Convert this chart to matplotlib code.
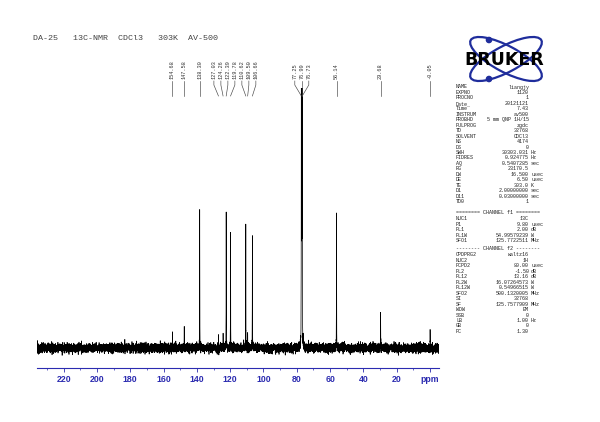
import numpy as np
import matplotlib.pyplot as plt
from matplotlib.patches import Ellipse, Circle
from matplotlib.transforms import blended_transform_factory

title = "DA-25   13C-NMR  CDCl3   303K  AV-500"

# peak list (ppm, relative height)
peak_ppm = [154.68, 147.58, 138.30, 127.03, 124.26, 122.39, 119.78,
            110.62, 109.50, 106.66, 77.25, 76.99, 76.73, 56.14, 29.68, -0.05]
peak_height = [0.062, 0.081, 0.527, 0.038, 0.042, 0.523, 0.446,
               0.481, 0.050, 0.431, 1.5, 1.5, 1.5, 0.523, 0.138, 0.069]

tick_ppm = [220, 200, 180, 160, 140, 120, 100, 80, 60, 40, 20, 0]
tick_text = ["220", "200", "180", "160", "140", "120", "100", "80", "60",
             "40", "20", "ppm"]

params = [
    ("NAME", "liangjy", ""), ("EXPNO", "1120", ""), ("PROCNO", "1", ""),
    ("Date_", "20121121", ""), ("Time", "7.43", ""), ("INSTRUM", "av500", ""),
    ("PROBHD", "5 mm QNP 1H/15", ""), ("PULPROG", "zgdc", ""),
    ("TD", "32768", ""), ("SOLVENT", "CDCl3", ""), ("NS", "4174", ""),
    ("DS", "0", ""), ("SWH", "30303.031", "Hz"), ("FIDRES", "0.924775", "Hz"),
    ("AQ", "0.5407285", "sec"), ("RG", "23170.5", ""), ("DW", "16.500", "usec"),
    ("DE", "6.50", "usec"), ("TE", "303.0", "K"), ("D1", "2.00000000", "sec"),
    ("D11", "0.03000000", "sec"), ("TD0", "1", ""),
]
params_f1 = [
    ("NUC1", "13C", ""), ("P1", "9.80", "usec"), ("PL1", "2.00", "dB"),
    ("PL1W", "54.99579239", "W"), ("SFO1", "125.7722511", "MHz"),
]
params_f2 = [
    ("CPDPRG2", "waltz16", ""), ("NUC2", "1H", ""), ("PCPD2", "80.00", "usec"),
    ("PL2", "-1.50", "dB"), ("PL12", "13.16", "dB"),
    ("PL2W", "16.07264573", "W"), ("PL12W", "0.54966515", "W"),
    ("SFO2", "500.1320005", "MHz"), ("SI", "32768", ""),
    ("SF", "125.7577909", "MHz"), ("WDW", "EM", ""), ("SSB", "0", ""),
    ("LB", "1.00", "Hz"), ("GB", "0", ""), ("PC", "1.30", ""),
]

fig = plt.figure(figsize=(6, 4.22), dpi=100)

# overlay in pixel units for the header, logo and parameter block
over = fig.add_axes([0, 0, 1, 1])
over.set_xlim(0, 600)
over.set_ylim(422, 0)
over.axis("off")

# spectrum axes
ax = fig.add_axes([37 / 600, 1 - 368 / 422, 402 / 600, 280 / 422])
ax.set_xlim(236, -5.4)
ax.set_ylim(-0.077, 1.0)
for side in ["top", "left", "right"]:
    ax.spines[side].set_visible(False)
blue = "#2b2bb0"
ax.spines["bottom"].set_color(blue)
ax.spines["bottom"].set_linewidth(0.8)
ax.set_yticks([])
ax.set_xticks(tick_ppm)
ax.set_xticklabels(tick_text, fontsize=6.3, fontweight="bold",
                   color=blue, family="Liberation Sans")
ax.set_xticks(np.arange(230, -5, -10), minor=True)
ax.tick_params(axis="x", which="major", colors=blue, length=3, width=0.6, pad=2)
ax.tick_params(axis="x", which="minor", colors=blue, length=1.5, width=0.5)
ax.tick_params(axis="x", labelcolor=blue)

# spectrum: narrow lorentzians on a noisy baseline
grid = np.linspace(236, -5.4, 9000)
x = np.sort(np.concatenate([grid, peak_ppm]))[::-1]
y = np.zeros_like(x)
for p, h in zip(peak_ppm, peak_height):
    w = 0.05
    y += h * w ** 2 / ((x - p) ** 2 + w ** 2)
rng = np.random.default_rng(3)
y += rng.normal(0, 0.0085, x.size)
ax.plot(x, y, color="black", lw=0.5)

# peak labels with leader lines
gap = 4.2
order = np.argsort(peak_ppm)[::-1]
pos = [peak_ppm[i] for i in order]
for _ in range(300):
    for i in range(len(pos) - 1):
        d = pos[i] - pos[i + 1]
        if d < gap:
            s = (gap - d) / 2
            pos[i] += s
            pos[i + 1] -= s
mono = "Liberation Mono"
trans = blended_transform_factory(ax.transData, over.transData)
for k, i in enumerate(order):
    p = peak_ppm[i]
    lx = pos[k]
    ax.text(lx, 79, f"{p:.2f}", rotation=90, ha="center", va="bottom",
            fontsize=3.8, family=mono, color="#333333", transform=trans,
            clip_on=False)
    ax.plot([lx, lx, p], [81, 85, 96], color="#444444", lw=0.45,
            transform=trans, clip_on=False)

# header
over.text(33, 39, title, fontsize=6, family=mono, color="#444444",
          va="center", ha="left")

# Bruker logo
logo_blue = "#1f2d9c"
for ang in [28, -28]:
    over.add_patch(Ellipse((506, 59), 80, 26, angle=ang, fill=False,
                           ec=logo_blue, lw=1.6))
over.add_patch(Circle((489, 40), 2.6, color=logo_blue))
over.add_patch(Circle((489, 79), 2.6, color=logo_blue))
over.text(504, 60, "BRUKER", fontsize=12.5, fontweight="bold",
          family="DejaVu Sans", color="black", ha="center", va="center",
          zorder=5)

# acquisition / processing parameters
def param_rows(rows, y0, step=5.46):
    for j, (name, val, unit) in enumerate(rows):
        yy = y0 + j * step
        over.text(456, yy, name, fontsize=3.6, family=mono, color="#222222",
                  va="center", ha="left")
        over.text(529, yy, val, fontsize=3.6, family=mono, color="#222222",
                  va="center", ha="right")
        if unit:
            over.text(531, yy, unit, fontsize=3.6, family=mono,
                      color="#222222", va="center", ha="left")

param_rows(params, 87)
over.text(456, 213, "======== CHANNEL f1 ========", fontsize=3.6,
          family=mono, color="#222222", va="center", ha="left")
param_rows(params_f1, 219)
over.text(456, 249, "-------- CHANNEL f2 --------", fontsize=3.6,
          family=mono, color="#222222", va="center", ha="left")
param_rows(params_f2, 255)

fig.savefig("out.png", dpi=100)
